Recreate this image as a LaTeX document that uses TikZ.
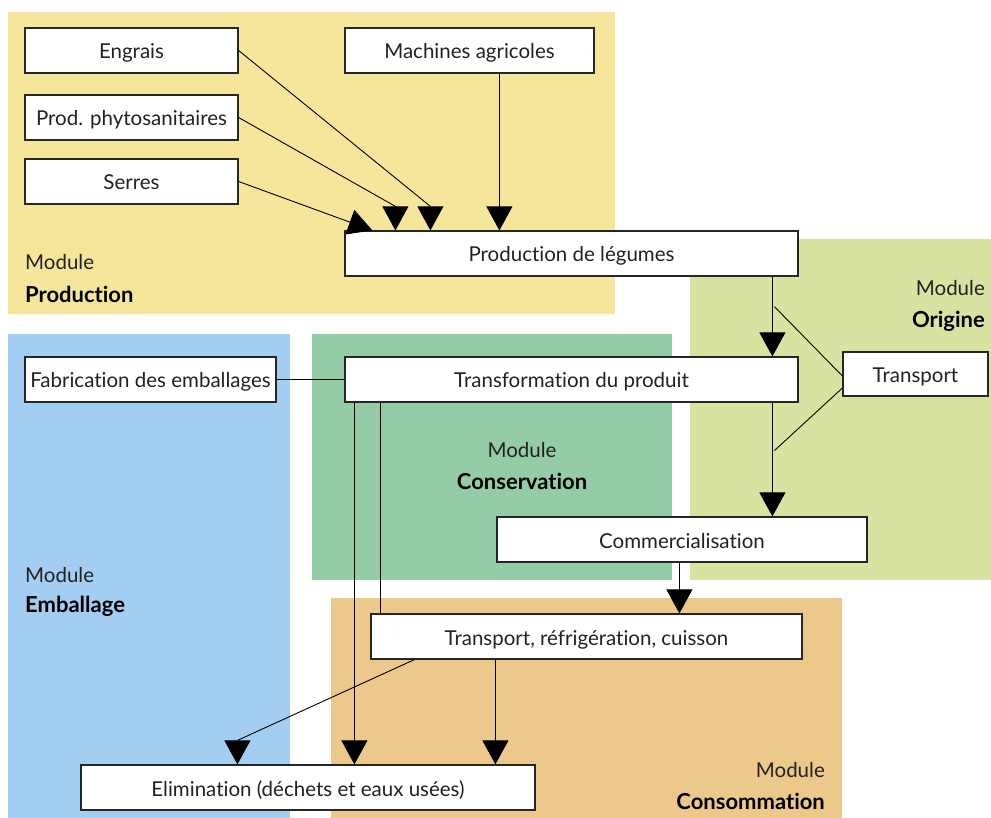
\documentclass[tikz,border=0pt]{standalone}
\usepackage{fontspec}
\setmainfont[RawFeature=-liga]{Lato}
\usetikzlibrary{arrows.meta,calc}
\definecolor{cprod}{HTML}{F5E69B}
\definecolor{corig}{HTML}{D7E4A1}
\definecolor{cemb}{HTML}{A3CDF1}
\definecolor{ccons}{HTML}{94CCA8}
\definecolor{cconso}{HTML}{EDC88B}
\definecolor{ctxt}{HTML}{222222}
\begin{document}
\begin{tikzpicture}[x=1pt,y=-1pt,
 box/.style={draw=black!85,line width=1.2pt,fill=white,inner sep=0pt,minimum height=45pt,text height=17pt,text depth=0pt,text=ctxt,font=\fontsize{20.5}{23}\selectfont},
 arr/.style={-{Triangle[width=26pt,length=24pt]},line width=0.9pt},
 ln/.style={line width=0.9pt},
 modl/.style={font=\fontsize{20.5}{23}\selectfont,inner sep=0pt,text=ctxt},
 modb/.style={font=\fontsize{22}{24}\selectfont\bfseries,inner sep=0pt}]
\useasboundingbox (0,0) rectangle (991,818);
% module backgrounds
\fill[cprod] (8,12) rectangle (615,314);
\fill[corig] (690,239) rectangle (991,580);
\fill[cemb] (8,334) rectangle (290,818);
\fill[ccons] (312,334) rectangle (672,580);
\fill[cconso] (331,598) rectangle (842,818);
% module labels
\node[modl,anchor=west] (mpl) at (25,262) {Module};
\node[modb,anchor=west] (mpb) at (25,294) {Production};
\node[modl,anchor=east] (mol) at (985,288) {Module};
\node[modb,anchor=east] (mob) at (985,321) {Origine};
\node[modl] (mcl) at (522,450) {Module};
\node[modb] (mcb) at (522,481) {Conservation};
\node[modl,anchor=west] (mel) at (25,575) {Module};
\node[modb,anchor=west] (meb) at (25,606) {Emballage};
\node[modl,anchor=east] (mkl) at (825,770) {Module};
\node[modb,anchor=east] (mkb) at (825,801) {Consommation};
% nodes
\node[box,minimum width=213pt] (engrais) at (131.5,50.5) {Engrais};
\node[box,minimum width=249pt] (mach) at (469.5,50.5) {Machines agricoles};
\node[box,minimum width=213pt] (phyto) at (131.5,117.5) {Prod. phytosanitaires};
\node[box,minimum width=213pt] (serres) at (131.5,181.5) {Serres};
\node[box,minimum width=453pt] (prod) at (571.5,253.5) {Production de légumes};
\node[box,minimum width=251pt] (fab) at (150.5,379.5) {Fabrication des emballages};
\node[box,minimum width=453pt] (trans) at (571.5,379.5) {Transformation du produit};
\node[box,minimum width=145pt,minimum height=44pt] (transp) at (915.5,374) {Transport};
\node[box,minimum width=370pt] (comm) at (682,539.5) {Commercialisation};
\node[box,minimum width=431pt] (trc) at (586.5,636.5) {Transport, réfrigération, cuisson};
\node[box,minimum width=454pt] (elim) at (308,787.5) {Elimination (déchets et eaux usées)};
% arrow tip points
\coordinate (pe) at ($(prod.north west)+(86,0)$);
\coordinate (pp) at ($(prod.north west)+(51,0)$);
\coordinate (ed) at ($(elim.north west)+(157,0)$);
% connectors
\draw[arr] (engrais.east) -- ($(pe)+(0,-24)$) -- (pe);
\draw[arr] (phyto.east) -- ($(pp)+(0,-24)$) -- (pp);
\draw[arr] (serres.east) -- ($(prod.north west)+(28,0)$);
\draw[arr] ($(mach.south west)+(155,0)$) -- ($(prod.north west)+(155,0)$);
\draw[arr] ($(prod.south west)+(428,0)$) -- ($(trans.north west)+(428,0)$);
\coordinate (ta) at ($(prod.south west)+(430,30)$);
\coordinate (tb) at ($(trans.south west)+(430,48)$);
\draw[ln] (ta) -- ($(transp.west)+(0,2)$);
\draw[ln] ($(transp.west)+(0,14)$) -- (tb);
\draw[arr] ($(trans.south west)+(428,0)$) -- ($(comm.north west)+(276,0)$);
\draw[ln] (fab.east) -- (trans.west);
\draw[arr] ($(trans.south west)+(10,0)$) -- ($(elim.north west)+(274,0)$);
\draw[ln] ($(trans.south west)+(36,0)$) -- ($(trc.north west)+(10,0)$);
\draw[arr] ($(comm.south west)+(183,0)$) -- ($(trc.north west)+(309,0)$);
\draw[arr] ($(trc.south west)+(44,0)$) -- ($(ed)+(0,-24)$) -- (ed);
\draw[arr] ($(trc.south west)+(125,0)$) -- ($(elim.north west)+(415,0)$);
\end{tikzpicture}
\end{document}
